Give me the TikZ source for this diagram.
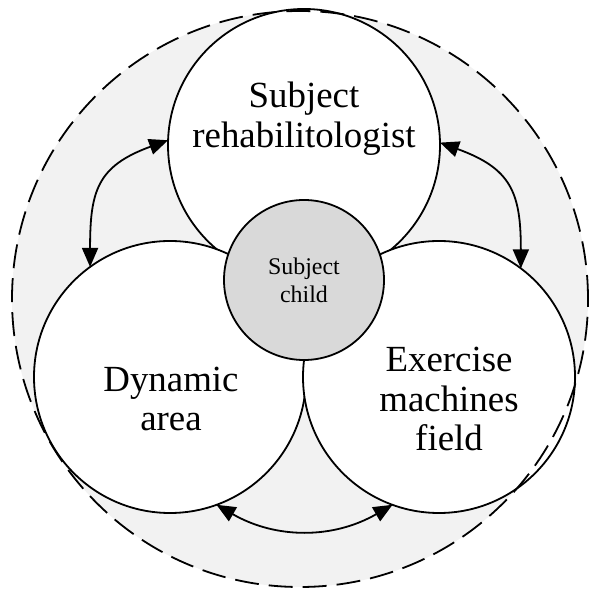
\documentclass[tikz,border=0pt]{standalone}
\usepackage{fontspec}
\setmainfont{Liberation Serif}
\usetikzlibrary{arrows.meta}
\definecolor{ringgray}{HTML}{F2F2F2}
\definecolor{childgray}{HTML}{D9D9D9}
\tikzset{
  bigcirc/.style={circle,draw=black,fill=white,line width=1.8bp,inner sep=0pt,outer sep=0pt,minimum size=272bp},
  childcirc/.style={circle,draw=black,fill=childgray,line width=1.8bp,inner sep=0pt,outer sep=0pt,minimum size=160bp},
  bigtext/.style={align=center,inner sep=0pt,font=\fontsize{37}{40}\selectfont},
  smalltext/.style={align=center,inner sep=0pt,font=\fontsize{24}{28}\selectfont},
  link/.style={line width=1.8bp,{Triangle[length=19bp,width=16bp]}-{Triangle[length=19bp,width=16bp]}},
}
\begin{document}
\begin{tikzpicture}[x=1bp,y=1bp]
\useasboundingbox (0,0) rectangle (589,589);
\coordinate (ringc) at (300,290);
\fill[ringgray] (ringc) circle (288);
\node[bigcirc] (top) at (304,444) {};
\node[bigcirc] (left) at (170,212) {};
\node[bigcirc] (right) at (439,212) {};
\node[childcirc] (child) at (304,309) {};
\node[bigtext] (toptext) at (304,470) {Subject\\rehabilitologist};
\node[smalltext] (childtext) at (304,308.8) {Subject\\child};
\node[bigtext] (lefttext) at (171,190) {Dynamic\\area};
\node[bigtext] (righttext) at (449,190) {Exercise\\machines\\field};
\draw[link] (left.126) to[out=90,in=200,looseness=1.3] (top.178);
\draw[link] (right.53) to[out=90,in=-20,looseness=1.3] (top.1);
\draw[link] (left.-70) to[out=-30,in=-150] (right.-110);
\draw[line width=1.8bp,dash pattern=on 24bp off 10bp] (ringc) circle (288);
\end{tikzpicture}
\end{document}
